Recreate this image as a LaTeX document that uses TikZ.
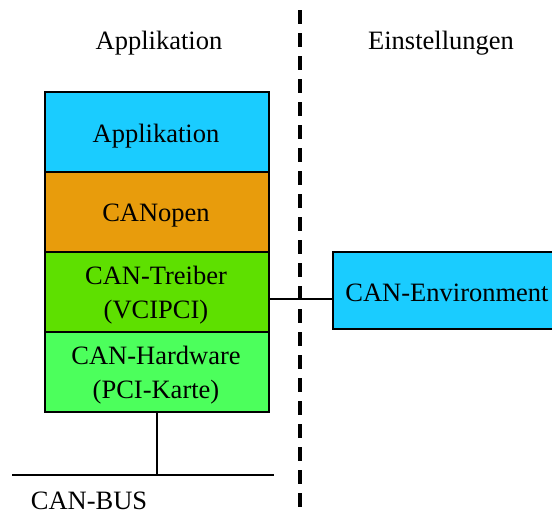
\documentclass[tikz,border=0pt]{standalone}
\usepackage{fontspec}
\setmainfont{Liberation Serif}
\begin{document}
\begin{tikzpicture}[x=1pt,y=-1pt,
  layer/.style={draw=black,line width=1.6pt,minimum width=224pt,minimum height=80pt,inner sep=0pt,anchor=north west},
  txt/.style={font=\fontsize{26.5}{34}\selectfont,inner sep=0pt,align=center},
  conn/.style={line width=1.8pt}]
\useasboundingbox (0,0) rectangle (552,515);
\node[layer,fill={rgb,255:red,26;green,204;blue,255}] (app) at (44,91) {};
\node[layer,fill={rgb,255:red,232;green,156;blue,12}] (co) at (44,171) {};
\node[layer,fill={rgb,255:red,94;green,224;blue,0}] (drv) at (44,251) {};
\node[layer,fill={rgb,255:red,76;green,255;blue,92}] (hw) at (44,331) {};
\node[layer,fill={rgb,255:red,26;green,204;blue,255},minimum width=226pt,minimum height=77pt] (env) at (332,251) {};
\node[txt] (tapp) at (156,136) {Applikation};
\node[txt] (tco) at (156,216) {CANopen};
\node[txt] (tdrv) at (156,295) {CAN-Treiber\\(VCIPCI)};
\node[txt] (thw) at (156,375) {CAN-Hardware\\(PCI-Karte)};
\node[txt] (tenv) at (447,293) {CAN-Environment};
\node[txt] (h1) at (159,43) {Applikation};
\node[txt] (h2) at (441,43) {Einstellungen};
\node[txt] (bus) at (89,500.5) {CAN-BUS};
\coordinate (dtop) at (300,10);
\coordinate (dbot) at (300,512);
\draw[line width=4pt,dash pattern=on 14pt off 9pt] (dtop) -- (dbot);
\coordinate (bl) at (12,475);
\coordinate (br) at (274,475);
\draw[conn] (bl) -- (br);
\draw[conn] (hw.south) -- (hw.south |- bl);
\draw[conn] (drv.east |- 0,299) -- (env.west |- 0,299);
\end{tikzpicture}
\end{document}
